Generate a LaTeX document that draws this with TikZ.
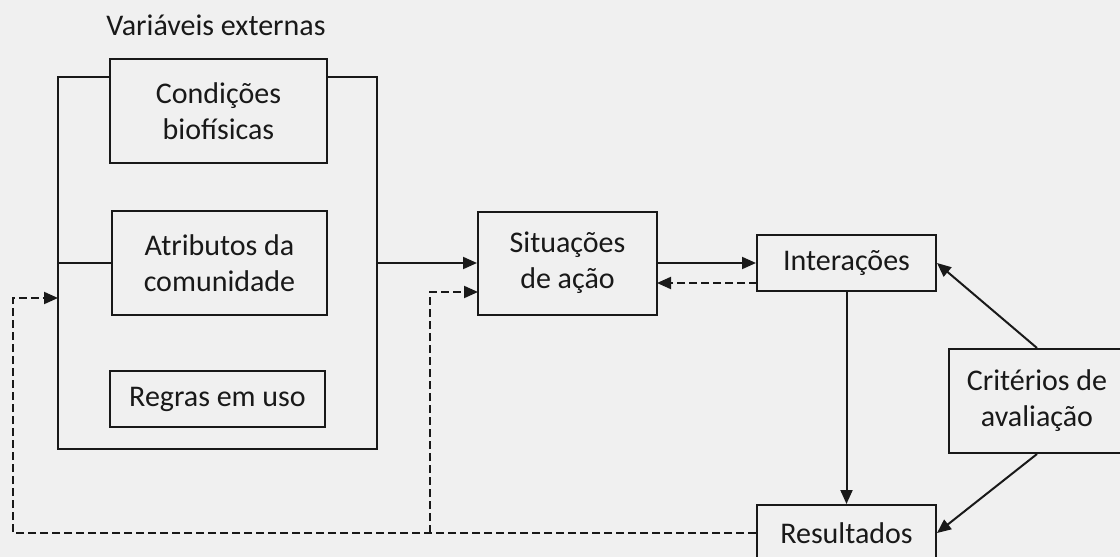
\documentclass[tikz,border=0pt]{standalone}
\usepackage{fontspec}
\setmainfont{Carlito}
\usetikzlibrary{arrows.meta}
\definecolor{paper}{RGB}{240,240,240}
\definecolor{ink}{RGB}{25,25,25}
\begin{document}
\begin{tikzpicture}[x=1pt,y=-1pt,
  txt/.style={font=\fontsize{30}{36}\selectfont,text=ink},
  box/.style={txt,draw=ink,line width=2pt,fill=paper,inner sep=0pt,align=center},
  link/.style={draw=ink,line width=2pt,-{Triangle[length=14pt,width=12pt]}},
  plain/.style={draw=ink,line width=2pt},
  feedback/.style={link,dash pattern=on 8pt off 4pt}]
  % page
  \fill[paper] (0,0) rectangle (1120,557);
  \useasboundingbox (0,0) rectangle (1120,557);

  % group of external variables
  \node[draw=ink,line width=2pt,minimum width=319pt,minimum height=372pt,inner sep=0pt] (frame) at (217.5,263) {};
  \node[txt] (title) at (216,25) {Variáveis externas};
  \node[box,minimum width=217pt,minimum height=104pt] (cond) at (218.5,111) {Condições\\biofísicas};
  \node[box,minimum width=215pt,minimum height=104pt] (atr) at (219.5,263) {Atributos da\\comunidade};
  \node[box,minimum width=215pt,minimum height=56pt] (regras) at (217.5,399) {Regras em uso};

  % process boxes
  \node[box,minimum width=179pt,minimum height=103pt] (situ) at (567.5,263) {Situações\\de ação};
  \node[box,minimum width=179pt,minimum height=56pt] (inter) at (846.5,263) {Interações};
  \node[box,minimum width=179pt,minimum height=56pt] (result) at (846.5,533) {Resultados};
  \node[box,minimum width=176pt,minimum height=104pt] (crit) at (1037,401) {Critérios de\\avaliação};

  % helper points for the feedback loops
  \coordinate (loopL) at (13,533);
  \coordinate (frameIn) at (58,298);
  \coordinate (split) at (430,533);
  \coordinate (situIn) at (478,292);
  \coordinate (interOut) at (757,283);
  \coordinate (situBack) at (657,283);

  % solid flow
  \draw[plain] (frame.west) -- (atr.west);
  \draw[link] (frame.east) -- (situ.west);
  \draw[link] (situ.east) -- (inter.west);
  \draw[link] (inter.south) -- (result.north);
  \draw[link] (crit.north) -- (inter.east);
  \draw[link] (crit.south) -- (result.east);

  % dashed feedback
  \draw[feedback] (interOut) -- (situBack);
  \draw[feedback] (result.west) -- (loopL) |- (frameIn);
  \draw[feedback] (split) |- (situIn);
\end{tikzpicture}
\end{document}
